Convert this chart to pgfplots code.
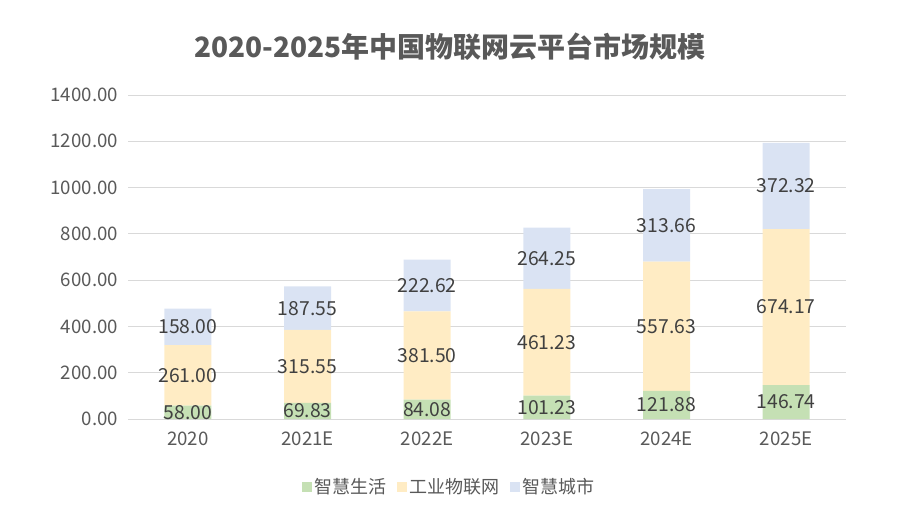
\documentclass[border=0pt]{standalone}
\usepackage{fontspec}
\setmainfont{Noto Sans CJK SC}
\usepackage{pgfplots}
\pgfplotsset{compat=1.18}
\usepackage{pgfplotstable}
\definecolor{cGreen}{RGB}{197,224,180}
\definecolor{cYellow}{RGB}{255,236,196}
\definecolor{cBlue}{RGB}{218,227,243}
\definecolor{cGrid}{RGB}{217,217,217}
\definecolor{cTick}{RGB}{89,89,89}
\definecolor{cLab}{RGB}{64,64,64}
\pgfplotstableread{
x life ind city
0 58.00 261.00 158.00
1 69.83 315.55 187.55
2 84.08 381.50 222.62
3 101.23 461.23 264.25
4 121.88 557.63 313.66
5 146.74 674.17 372.32
}\datatable
\pgfplotsset{commonax/.style={
  at={(96pt,77.25pt)}, anchor=south west,
  scale only axis, width=538.5pt, height=243pt,
  xmin=-0.5, xmax=5.5, ymin=0, ymax=1400}}
\begin{document}
\begin{tikzpicture}
\path (0pt,0pt) rectangle (675pt,391.5pt);
\node[text=cTick,font=\fontsize{21}{24}\selectfont\bfseries] at (337.5pt,356.5pt) {2020-2025年中国物联网云平台市场规模};
\begin{axis}[
  commonax,
  ybar stacked, bar width=35.25pt,
  xtick={0,...,5}, xticklabels={2020,2021E,2022E,2023E,2024E,2025E},
  ytick={0,200,...,1400},
  axis line style={draw=none},
  axis x line*=bottom,
  x axis line style={draw=cGrid},
  ymajorgrids, grid style={cGrid, line width=0.75pt},
  major tick length=0pt,
  tick style={draw=none},
  /pgf/number format/assume math mode=true,
  yticklabel style={/pgf/number format/fixed,/pgf/number format/fixed zerofill,/pgf/number format/precision=2,/pgf/number format/1000 sep={}},
  ticklabel style={text=cTick, font=\fontsize{14}{16}\selectfont},
  xticklabel style={yshift=-6pt},
  yticklabel style={xshift=-4pt},
  legend style={at={(0.448,-0.21)}, anchor=center, draw=none, legend columns=3, font=\fontsize{13.5}{15}\selectfont, text=cTick, /tikz/every even column/.append style={column sep=6pt}},
  legend image code/.code={\fill[#1] (0pt,-3.75pt) rectangle (7.5pt,3.75pt);},
]
\addplot[fill=cGreen, draw=none] table[x=x,y=life]{\datatable};
\addplot[fill=cYellow, draw=none] table[x=x,y=ind]{\datatable};
\addplot[fill=cBlue, draw=none] table[x=x,y=city]{\datatable};
\legend{智慧生活,工业物联网,智慧城市}
\end{axis}
\begin{axis}[
  commonax, hide axis,
  nodes near coords,
  point meta=explicit,
  nodes near coords style={/pgf/number format/fixed,/pgf/number format/fixed zerofill,/pgf/number format/precision=2,/pgf/number format/assume math mode=true, text=cLab, font=\fontsize{14.5}{16}\selectfont, anchor=center},
]
\addplot[draw=none, mark=none] table[x=x, y expr=\thisrow{life}/2, meta=life]{\datatable};
\addplot[draw=none, mark=none] table[x=x, y expr=\thisrow{life}+\thisrow{ind}/2, meta=ind]{\datatable};
\addplot[draw=none, mark=none] table[x=x, y expr=\thisrow{life}+\thisrow{ind}+\thisrow{city}/2, meta=city]{\datatable};
\end{axis}
\end{tikzpicture}
\end{document}
